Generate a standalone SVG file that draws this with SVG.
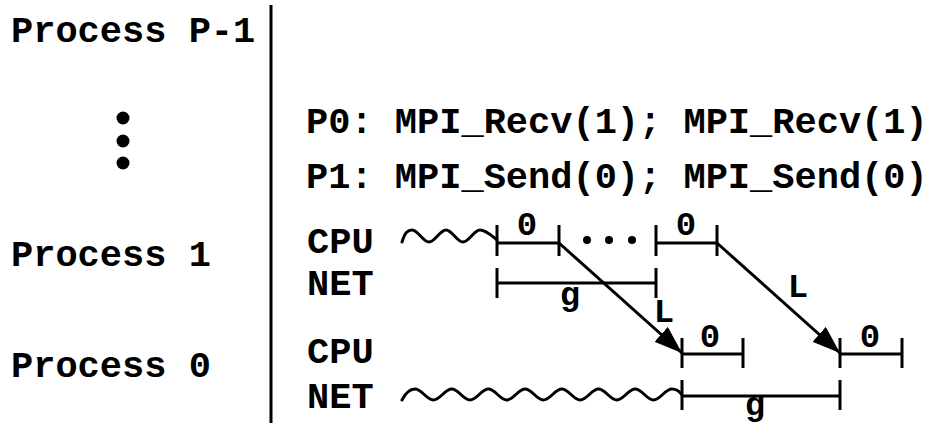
<svg xmlns="http://www.w3.org/2000/svg" width="932" height="425" viewBox="0 0 932 425">
<style>
.mono{font-family:"Liberation Mono","Courier New",monospace;font-weight:bold;font-size:37px;fill:#000}
.lab{font-family:"Liberation Mono","Courier New",monospace;font-weight:bold;font-size:34px;fill:#000;text-anchor:middle}
.ln{stroke:#000;stroke-width:3;fill:none}
.wv{stroke:#000;stroke-width:3;fill:none;stroke-linecap:round}
</style>
<defs>
<marker id="ah" markerUnits="userSpaceOnUse" markerWidth="28" markerHeight="20" refX="28" refY="10" orient="auto" viewBox="0 0 28 20"><path d="M0,0 L28,10 L0,20 z" fill="#000"/></marker>
</defs>
<rect width="932" height="425" fill="#fff"/>
<g id="processes">
<text class="mono" x="11" y="42">Process P-1</text>
<circle cx="123" cy="118" r="6.5"/>
<circle cx="123" cy="141" r="6.5"/>
<circle cx="123" cy="163" r="6.5"/>
<text class="mono" x="11" y="266">Process 1</text>
<text class="mono" x="11" y="377">Process 0</text>
</g>
<line id="separator" class="ln" x1="271" y1="5" x2="271" y2="423" stroke-width="3.5"/>
<g id="code">
<text class="mono" x="306" y="133">P0: MPI_Recv(1); MPI_Recv(1)</text>
<text class="mono" x="306" y="188">P1: MPI_Send(0); MPI_Send(0)</text>
</g>
<g id="p1-timeline">
<text class="mono" x="307" y="253">CPU</text>
<text class="mono" x="307" y="295">NET</text>
<path class="wv" d="M402,242 C405,232 408,230 412,230 C418,230 423,242 429,242 C435,242 440,230 446,230 C452,230 457,242 463,242 C469,242 474,230 480,230 C486,230 492,236 497,240"/>
<path class="ln" d="M497,225 V256 M559,225 V256 M497,243 H559 M656,225 V256 M717,225 V256 M656,243 H717"/>
<text class="lab" x="527" y="235">0</text>
<text class="lab" x="686" y="235">0</text>
<circle cx="587" cy="240" r="4"/>
<circle cx="609" cy="240" r="4"/>
<circle cx="632" cy="240" r="4"/>
<path class="ln" d="M497,268 V298 M656,268 V298 M497,283 H656"/>
<text class="lab" x="570" y="305">g</text>
</g>
<g id="p0-timeline">
<text class="mono" x="307" y="363">CPU</text>
<text class="mono" x="307" y="408">NET</text>
<path class="ln" d="M682,338 V368 M743,338 V368 M682,354 H743 M840,338 V368 M902,338 V368 M840,354 H902"/>
<text class="lab" x="710" y="347">0</text>
<text class="lab" x="870" y="347">0</text>
<path class="wv" d="M402,400 C406,392 410,389 415,389 C421.6,389 426.8,400 433.4,400 C440,400 445.1,389 451.7,389 C458.3,389 463.4,400 470,400 C476.6,400 481.8,389 488.4,389 C495,389 500.1,400 506.7,400 C513.3,400 518.5,389 525.1,389 C531.7,389 536.8,400 543.4,400 C550,400 555.2,389 561.8,389 C568.4,389 573.6,400 580.2,400 C586.8,400 591.9,389 598.5,389 C605.1,389 610.2,400 616.8,400 C623.4,400 628.6,389 635.2,389 C641.8,389 646.9,400 653.5,400 C660.1,400 665.3,389 671.9,389 C676,389 680,392 682,395"/>
<path class="ln" d="M682,380 V410 M840,380 V410 M682,396 H840"/>
<text class="lab" x="755" y="415">g</text>
</g>
<g id="connectors">
<line class="ln" x1="559" y1="243" x2="682" y2="353" marker-end="url(#ah)"/>
<line class="ln" x1="717" y1="243" x2="840" y2="353" marker-end="url(#ah)"/>
<text class="lab" x="664" y="322">L</text>
<text class="lab" x="798" y="297">L</text>
</g>
</svg>
